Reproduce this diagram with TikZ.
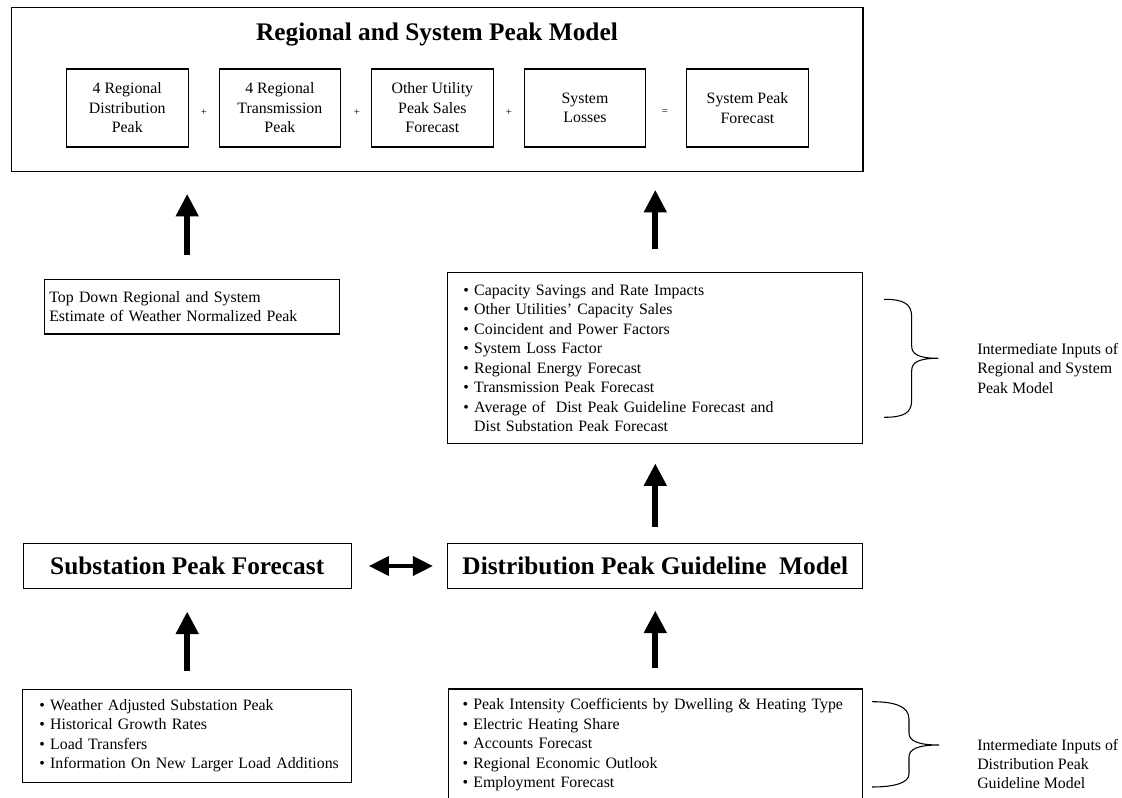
\documentclass[tikz,border=0pt]{standalone}
\usepackage{fontspec}
\setmainfont{Liberation Serif}
\usetikzlibrary{arrows.meta}

\begin{document}
\begin{tikzpicture}[x=0.75pt, y=-0.75pt,
    box/.style={draw, line width=0.8pt, inner sep=0pt, align=center},
    bodytext/.style={font=\fontsize{11.9}{14.6}\selectfont},
    bigtitle/.style={font=\fontsize{19}{22}\selectfont\bfseries},
    bullets/.style={box, bodytext, align=left},
    bigarrow/.style={line width=4.7pt, -{Triangle[width=16.3pt, length=17pt]}},
    twoway/.style={line width=2.8pt, {Triangle[width=14.3pt, length=15pt]}-{Triangle[width=14.3pt, length=15pt]}},
    bracepath/.style={line width=0.8pt}
]
    \useasboundingbox (0,0) rectangle (1122,798);

    % Regional and system peak model with its five parts
    \node[box, minimum width=638.5pt, minimum height=123.3pt] (regional) at (437.35,89.5) {};
    \node[bigtitle, anchor=base] (regtitle) at (437,40.7) {Regional and System Peak Model};

    \foreach \x/\n/\t in {127.3/regdist/{4 Regional\\Distribution\\Peak},
                          279.85/regtrans/{4 Regional\\Transmission\\Peak},
                          432.35/othersales/{Other Utility\\Peak Sales\\Forecast},
                          585/losses/{System\\Losses},
                          747.5/syspeak/{System Peak\\Forecast}}
        {
            \node[box, bodytext, minimum width=91.1pt, minimum height=58.5pt] (\n) at (\x,108) {\t};
        }
    \foreach \x/\op in {204/+, 357/+, 509/+, 665/=}
        {
            \node[font=\fontsize{8}{9}\selectfont, inner sep=0pt] (op\x) at (\x,112) {\op};
        }

    % Inputs of the regional model (left inset through \leftskip)
    \node[bullets, minimum height=41pt, text width=221.25pt] (topdown) at (191.8,306.7)
        {\leftskip=3.75pt Top Down Regional and System\\Estimate of Weather Normalized Peak\par};

    \node[bullets, minimum height=128pt, text width=311.25pt] (inputs) at (655.3,358)
        {\leftskip=11.7pt • Capacity Savings and Rate Impacts\\
         • Other Utilities’ Capacity Sales\\
         • Coincident and Power Factors\\
         • System Loss Factor\\
         • Regional Energy Forecast\\
         • Transmission Peak Forecast\\
         • Average of~ Dist Peak Guideline Forecast and\\
         \phantom{•}\ Dist Substation Peak Forecast\par};

    % Substation and distribution models
    \node[box, bigtitle, minimum width=245.8pt, minimum height=34pt] (subst) at (187.2,566) {Substation Peak Forecast};
    \node[box, bigtitle, minimum width=311.25pt, minimum height=34pt] (distmodel) at (655.3,566) {Distribution Peak Guideline~ Model};

    \node[bullets, minimum height=70pt, text width=246.75pt] (subinputs) at (187.2,735.7)
        {\leftskip=12.45pt • Weather Adjusted Substation Peak\\
         • Historical Growth Rates\\
         • Load Transfers\\
         • Information On New Larger Load Additions\par};

    \node[bullets, minimum height=84pt, text width=310.8pt] (distinputs) at (655.3,745)
        {\leftskip=10.8pt • Peak Intensity Coefficients by Dwelling \& Heating Type\\
         • Electric Heating Share\\
         • Accounts Forecast\\
         • Regional Economic Outlook\\
         • Employment Forecast\par};

    % Arrows between the models
    \draw[bigarrow, shorten <=18pt, shorten >=16.2pt] (topdown.north -| subst.north) -- (regional.south -| subst.north);
    \draw[bigarrow, shorten <=17pt, shorten >=13.2pt] (inputs.north) -- (inputs.north |- regional.south);
    \draw[bigarrow, shorten <=12.2pt, shorten >=14.6pt] (distmodel.north) -- (inputs.south);
    \draw[bigarrow, shorten <=13pt, shorten >=16.7pt] (subinputs.north) -- (subst.south);
    \draw[bigarrow, shorten <=15pt, shorten >=16pt] (distinputs.north) -- (distmodel.south);
    \draw[twoway, shorten <=13pt, shorten >=10.8pt] (subst.east) -- (distmodel.west);

    % Braces and their notes
    \draw[bracepath] (884,299.3) .. controls (904,299.3) and (911.7,304) .. (911.7,317) -- (911.7,346)
        .. controls (911.7,354) and (918,358.3) .. (938.3,358.3)
        .. controls (918,358.3) and (911.7,362.6) .. (911.7,370.6) -- (911.7,400)
        .. controls (911.7,413) and (904,417.3) .. (884,417.3);
    \node[bodytext, align=left, anchor=west, inner sep=0pt] (regnote) at (977,368.3)
        {Intermediate Inputs of\\Regional and System\\Peak Model};

    \draw[bracepath] (872,701.7) .. controls (894,701.7) and (909,706) .. (909,719) -- (909,733)
        .. controls (909,741) and (918,745) .. (939,745)
        .. controls (918,745) and (909,749) .. (909,757) -- (909,774)
        .. controls (909,783) and (894,787) .. (872,787);
    \node[bodytext, align=left, anchor=west, inner sep=0pt] (distnote) at (977,764)
        {Intermediate Inputs of\\Distribution Peak\\Guideline Model};

\end{tikzpicture}
\end{document}
